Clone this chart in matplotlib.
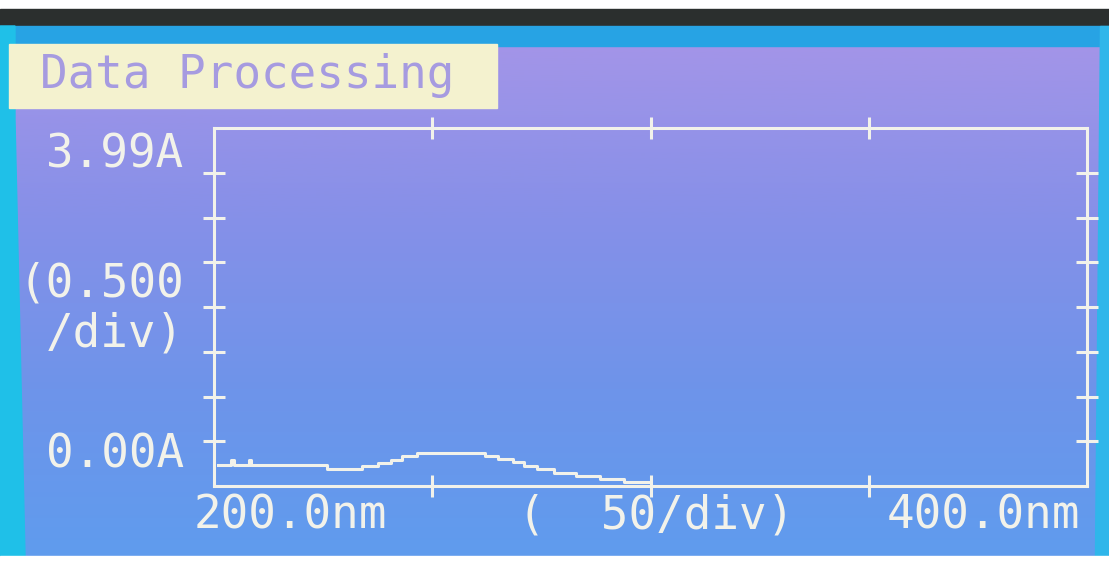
import numpy as np
import matplotlib
matplotlib.use("Agg")
import matplotlib.pyplot as plt
from matplotlib.colors import LinearSegmentedColormap
from matplotlib.patches import Rectangle, Polygon

# spectrum (step trace)
wavelength = [201, 204, 204.5, 208, 208.5, 226, 234, 237.5, 240.5, 243, 246.5,
              262, 265, 268.5, 271, 274, 278, 283, 288.5, 294, 299.5]
absorb = [0.23, 0.29, 0.23, 0.29, 0.23, 0.19, 0.22, 0.26, 0.29, 0.33, 0.37,
          0.33, 0.30, 0.27, 0.22, 0.19, 0.15, 0.11, 0.08, 0.045, 0.045]

x_min, x_max = 200.0, 400.0
y_min, y_max = 0.0, 4.0
x_ticks = [250, 300, 350]
y_ticks = [0.5, 1.0, 1.5, 2.0, 2.5, 3.0, 3.5]

W, H = 1109, 562
fig = plt.figure(figsize=(W / 100, H / 100), dpi=100)

# screen background
bg = fig.add_axes([0, 0, 1, 1])
bg.set_xlim(0, W)
bg.set_ylim(H, 0)
bg.axis("off")
cmap = LinearSegmentedColormap.from_list("lcd", ["#a395e8", "#8690e8", "#6e94ea", "#5f9cee"])
grad = np.linspace(0, 1, 256).reshape(-1, 1)
bg.imshow(grad, cmap=cmap, extent=[0, W, H, 45], aspect="auto")
bg.add_patch(Rectangle((0, 0), W, 9, color="white"))
bg.add_patch(Rectangle((0, 9), W, 17, color="#2b2f2e"))
bg.add_patch(Rectangle((0, 26), W, 20, color="#27a3e4"))
bg.add_patch(Polygon([(0, 26), (15, 26), (15, 120), (25, 556), (0, 556)], color="#1fc0e8"))
bg.add_patch(Polygon([(1100, 26), (W, 26), (W, 556), (1095, 556)], color="#2fb6ea"))
bg.add_patch(Rectangle((0, 556), W, 6, color="white"))
bg.add_patch(Rectangle((9, 44), 488, 64, color="#f4f2cf"))
bg.text(40, 76, "Data Processing", family="DejaVu Sans Mono", fontsize=33,
        color="#a69be0", va="center", ha="left")

fg = "#f2f2ea"
txt = dict(family="DejaVu Sans Mono", fontsize=33, color=fg)
bg.text(184, 155, "3.99A", ha="right", va="center", **txt)
bg.text(184, 284, "(0.500", ha="right", va="center", **txt)
bg.text(184, 334, "/div)", ha="right", va="center", **txt)
bg.text(184, 455, "0.00A", ha="right", va="center", **txt)
bg.text(194, 516, "200.0nm", ha="left", va="center", **txt)
bg.text(518, 516, "(  50/div)", ha="left", va="center", **txt)
bg.text(1080, 516, "400.0nm", ha="right", va="center", **txt)

# plot frame
left, right, top, bottom = 214, 1087, 128, 486
ax = fig.add_axes([left / W, 1 - bottom / H, (right - left) / W, (bottom - top) / H])
ax.patch.set_alpha(0)
ax.plot(wavelength, absorb, drawstyle="steps-post", color=fg, lw=2.2)
ax.set_xlim(x_min, x_max)
ax.set_ylim(y_min, y_max)
ax.set_xticks(x_ticks)
ax.set_yticks(y_ticks)
ax.tick_params(direction="inout", length=16, width=2.2, color=fg,
               top=True, right=True, labelbottom=False, labelleft=False)
for s in ax.spines.values():
    s.set_color(fg)
    s.set_linewidth(2.2)

fig.savefig("out.png", dpi=100)
